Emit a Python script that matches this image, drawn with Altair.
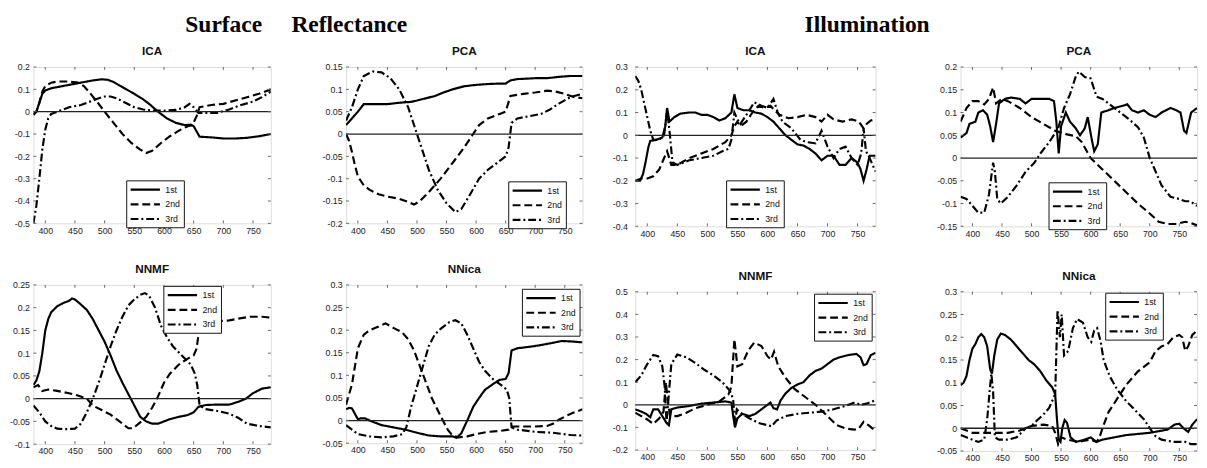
import altair as alt
import pandas as pd

COMPONENTS = ["1st", "2nd", "3rd"]
X_TICKS = [400, 450, 500, 550, 600, 650, 700, 750]

# ---------------- Surface reflectance : ICA ----------------
SR_ICA_1 = [(380,-0.01),(385,0.0),(390,0.04),(395,0.08),(400,0.095),(410,0.105),(420,0.11),(440,0.12),(460,0.13),(480,0.14),(495,0.145),(505,0.143),(515,0.133),(530,0.11),(550,0.08),(565,0.055),(575,0.035),(590,0.0),(605,-0.03),(620,-0.05),(635,-0.06),(645,-0.058),(650,-0.065),(660,-0.112),(680,-0.115),(700,-0.12),(720,-0.12),(740,-0.117),(760,-0.11),(780,-0.1)]
SR_ICA_2 = [(380,-0.015),(385,0.0),(390,0.04),(395,0.09),(400,0.115),(410,0.13),(420,0.135),(440,0.135),(455,0.13),(465,0.115),(475,0.085),(490,0.035),(500,0.0),(515,-0.05),(530,-0.1),(545,-0.14),(560,-0.17),(570,-0.185),(580,-0.175),(595,-0.14),(610,-0.11),(625,-0.085),(640,-0.065),(648,-0.06),(655,-0.02),(660,0.02),(680,0.03),(700,0.035),(720,0.05),(740,0.065),(760,0.08),(780,0.1)]
SR_ICA_3 = [(380,-0.5),(385,-0.42),(390,-0.3),(395,-0.17),(400,-0.08),(405,-0.03),(410,-0.01),(420,0.0),(440,0.02),(460,0.03),(480,0.05),(490,0.06),(500,0.068),(510,0.068),(520,0.06),(535,0.04),(550,0.02),(565,0.01),(580,0.005),(600,0.005),(620,0.008),(635,0.02),(643,0.035),(650,0.02),(658,-0.005),(670,-0.005),(690,-0.005),(710,0.01),(730,0.03),(750,0.045),(765,0.065),(780,0.09)]
SR_ICA_YTICKS = [-0.5, -0.4, -0.3, -0.2, -0.1, 0, 0.1, 0.2]

# ---------------- Surface reflectance : PCA ----------------
SR_PCA_1 = [(380,0.02),(390,0.035),(400,0.05),(410,0.067),(430,0.067),(450,0.067),(470,0.07),(490,0.072),(500,0.075),(515,0.08),(530,0.085),(545,0.093),(560,0.1),(580,0.107),(600,0.11),(620,0.112),(640,0.113),(650,0.113),(658,0.12),(670,0.123),(700,0.125),(720,0.125),(740,0.128),(760,0.13),(780,0.13)]
SR_PCA_2 = [(380,0.0),(385,-0.015),(390,-0.04),(395,-0.07),(400,-0.095),(410,-0.115),(420,-0.125),(435,-0.135),(450,-0.14),(470,-0.145),(485,-0.152),(495,-0.158),(505,-0.15),(520,-0.13),(540,-0.1),(560,-0.065),(580,-0.03),(595,0.0),(605,0.02),(620,0.035),(640,0.045),(650,0.05),(658,0.085),(680,0.09),(700,0.093),(720,0.097),(735,0.095),(750,0.09),(765,0.083),(780,0.08)]
SR_PCA_3 = [(380,0.03),(390,0.06),(400,0.1),(410,0.13),(425,0.14),(440,0.138),(455,0.125),(470,0.1),(485,0.06),(500,0.0),(510,-0.04),(520,-0.08),(535,-0.125),(550,-0.155),(565,-0.175),(575,-0.168),(590,-0.135),(605,-0.1),(620,-0.08),(640,-0.06),(650,-0.05),(655,-0.03),(660,0.025),(670,0.035),(690,0.04),(710,0.045),(725,0.055),(740,0.068),(760,0.083),(780,0.09)]
SR_PCA_YTICKS = [-0.2, -0.15, -0.1, -0.05, 0, 0.05, 0.1, 0.15]

# ---------------- Illumination : ICA ----------------
IL_ICA_1 = [(380,-0.2),(388,-0.2),(393,-0.17),(397,-0.12),(402,-0.05),(405,-0.025),(415,-0.02),(425,-0.01),(430,0.04),(433,0.12),(437,0.06),(445,0.08),(455,0.095),(470,0.1),(480,0.1),(490,0.09),(500,0.09),(510,0.08),(520,0.065),(530,0.075),(540,0.1),(545,0.18),(550,0.12),(560,0.11),(570,0.11),(580,0.1),(590,0.095),(600,0.08),(610,0.06),(620,0.03),(630,0.0),(640,-0.02),(650,-0.04),(660,-0.045),(670,-0.06),(680,-0.08),(690,-0.11),(700,-0.09),(710,-0.09),(720,-0.13),(730,-0.13),(740,-0.1),(750,-0.12),(755,-0.15),(760,-0.2),(765,-0.15),(770,-0.09),(780,-0.09)]
IL_ICA_2 = [(380,-0.2),(390,-0.19),(400,-0.19),(410,-0.18),(420,-0.15),(428,-0.1),(433,-0.07),(440,-0.13),(450,-0.13),(470,-0.1),(490,-0.08),(510,-0.06),(530,-0.03),(540,0.0),(545,0.04),(550,0.06),(555,0.04),(565,0.06),(575,0.1),(585,0.13),(595,0.12),(605,0.13),(612,0.11),(620,0.09),(635,0.075),(650,0.08),(665,0.09),(680,0.08),(690,0.06),(700,0.09),(710,0.07),(725,0.06),(740,0.07),(752,0.06),(760,0.03),(765,0.05),(772,0.065),(780,0.07)]
IL_ICA_3 = [(380,0.26),(385,0.24),(390,0.2),(395,0.14),(400,0.08),(405,0.02),(410,-0.02),(420,-0.02),(428,0.0),(433,0.11),(437,0.02),(442,-0.12),(450,-0.13),(470,-0.11),(490,-0.1),(510,-0.09),(525,-0.07),(535,-0.06),(540,-0.02),(545,0.1),(550,0.07),(555,0.05),(565,0.09),(578,0.145),(590,0.13),(600,0.12),(610,0.16),(617,0.1),(625,0.06),(640,0.03),(655,-0.02),(665,-0.03),(680,-0.035),(690,0.02),(700,-0.05),(710,-0.1),(720,-0.06),(730,-0.05),(740,-0.1),(750,-0.13),(756,-0.08),(760,0.03),(764,-0.07),(770,-0.1),(780,-0.16)]
IL_ICA_YTICKS = [-0.4, -0.3, -0.2, -0.1, 0, 0.1, 0.2, 0.3]

# ---------------- Illumination : PCA ----------------
IL_PCA_1 = [(380,0.045),(385,0.05),(390,0.055),(395,0.075),(405,0.08),(410,0.1),(418,0.105),(425,0.095),(430,0.07),(435,0.035),(440,0.075),(445,0.12),(455,0.13),(465,0.133),(480,0.13),(490,0.12),(500,0.13),(515,0.13),(530,0.13),(538,0.125),(542,0.08),(546,0.01),(550,0.07),(558,0.1),(565,0.08),(575,0.065),(582,0.05),(590,0.065),(595,0.09),(602,0.04),(606,0.015),(612,0.03),(618,0.1),(630,0.105),(640,0.11),(655,0.115),(662,0.118),(670,0.105),(680,0.1),(690,0.105),(700,0.095),(710,0.09),(720,0.1),(735,0.11),(745,0.105),(752,0.1),(758,0.06),(762,0.055),(770,0.1),(780,0.11)]
IL_PCA_2 = [(380,0.08),(390,0.11),(400,0.125),(410,0.125),(420,0.118),(428,0.13),(435,0.155),(440,0.12),(450,0.13),(460,0.125),(480,0.11),(500,0.09),(520,0.075),(540,0.06),(560,0.052),(575,0.048),(585,0.035),(600,0.0),(620,-0.025),(640,-0.05),(660,-0.075),(680,-0.1),(700,-0.122),(715,-0.14),(730,-0.145),(745,-0.145),(760,-0.14),(770,-0.143),(780,-0.148)]
IL_PCA_3 = [(380,-0.085),(390,-0.09),(400,-0.105),(410,-0.12),(420,-0.12),(428,-0.08),(432,-0.04),(435,-0.01),(438,-0.03),(442,-0.09),(448,-0.1),(460,-0.085),(475,-0.06),(490,-0.03),(505,-0.01),(515,0.01),(530,0.035),(545,0.065),(555,0.11),(565,0.14),(575,0.18),(580,0.19),(590,0.178),(600,0.175),(610,0.135),(620,0.13),(635,0.115),(650,0.1),(665,0.085),(680,0.068),(690,0.045),(700,0.0),(710,-0.03),(720,-0.06),(735,-0.085),(750,-0.09),(760,-0.095),(768,-0.095),(780,-0.105)]
IL_PCA_YTICKS = [-0.15, -0.1, -0.05, 0, 0.05, 0.1, 0.15, 0.2]

# ---------------- Surface reflectance : NNMF ----------------
SR_NNMF_1 = [(380,0.03),(385,0.04),(390,0.06),(395,0.1),(400,0.15),(405,0.175),(410,0.19),(420,0.203),(430,0.21),(440,0.215),(445,0.22),(450,0.218),(460,0.207),(470,0.195),(480,0.175),(490,0.15),(500,0.125),(510,0.095),(520,0.062),(530,0.035),(540,0.01),(550,-0.015),(560,-0.04),(570,-0.05),(580,-0.055),(590,-0.055),(600,-0.05),(610,-0.045),(625,-0.04),(640,-0.036),(650,-0.03),(658,-0.018),(670,-0.014),(690,-0.013),(710,-0.013),(725,-0.007),(738,0.0),(750,0.012),(765,0.022),(780,0.025)]
SR_NNMF_2 = [(380,0.025),(388,0.03),(395,0.017),(405,0.02),(420,0.017),(440,0.012),(455,0.007),(470,0.0),(480,-0.015),(495,-0.025),(510,-0.035),(525,-0.05),(540,-0.065),(548,-0.065),(560,-0.052),(570,-0.04),(580,-0.02),(590,0.005),(600,0.035),(610,0.055),(625,0.075),(640,0.088),(650,0.095),(655,0.11),(660,0.16),(670,0.165),(690,0.17),(710,0.172),(725,0.176),(745,0.18),(765,0.18),(780,0.178)]
SR_NNMF_3 = [(380,-0.015),(390,-0.03),(400,-0.05),(410,-0.06),(420,-0.066),(435,-0.067),(450,-0.066),(460,-0.055),(470,-0.03),(480,0.0),(490,0.035),(500,0.075),(510,0.115),(520,0.15),(530,0.18),(540,0.205),(550,0.218),(560,0.228),(568,0.232),(575,0.226),(585,0.2),(595,0.16),(605,0.135),(615,0.115),(630,0.095),(645,0.075),(652,0.055),(656,0.03),(660,-0.015),(670,-0.023),(690,-0.027),(710,-0.033),(725,-0.042),(740,-0.055),(760,-0.06),(780,-0.063)]
SR_NNMF_YTICKS = [-0.1, -0.05, 0, 0.05, 0.1, 0.15, 0.2, 0.25]

# ---------------- Surface reflectance : NNica ----------------
SR_NNICA_1 = [(380,0.025),(385,0.028),(390,0.027),(395,0.015),(400,0.003),(405,0.005),(412,0.005),(420,0.0),(440,-0.01),(460,-0.015),(480,-0.02),(500,-0.027),(520,-0.033),(540,-0.035),(560,-0.035),(567,-0.038),(575,-0.028),(585,0.0),(595,0.03),(605,0.05),(615,0.068),(630,0.082),(640,0.09),(650,0.092),(655,0.105),(660,0.155),(670,0.16),(690,0.163),(710,0.167),(730,0.172),(745,0.176),(760,0.175),(780,0.173)]
SR_NNICA_2 = [(380,0.035),(390,0.08),(400,0.16),(410,0.19),(420,0.2),(435,0.208),(447,0.215),(460,0.205),(475,0.195),(485,0.18),(495,0.155),(505,0.12),(515,0.085),(525,0.05),(540,0.01),(552,-0.02),(560,-0.033),(570,-0.037),(585,-0.035),(600,-0.03),(620,-0.025),(640,-0.023),(655,-0.02),(660,-0.013),(680,-0.013),(700,-0.013),(720,-0.012),(730,-0.007),(740,0.002),(760,0.015),(780,0.025)]
SR_NNICA_3 = [(380,-0.01),(390,-0.02),(400,-0.03),(420,-0.035),(440,-0.037),(460,-0.035),(475,-0.03),(482,-0.015),(490,0.03),(500,0.075),(510,0.12),(520,0.165),(530,0.19),(540,0.203),(555,0.218),(565,0.222),(575,0.215),(585,0.19),(595,0.16),(605,0.13),(615,0.11),(630,0.09),(645,0.076),(652,0.068),(656,0.05),(660,-0.015),(670,-0.02),(700,-0.025),(730,-0.027),(760,-0.032),(780,-0.033)]
SR_NNICA_YTICKS = [-0.05, 0, 0.05, 0.1, 0.15, 0.2, 0.25, 0.3]

# ---------------- Illumination : NNMF ----------------
IL_NNMF_1 = [(380,-0.02),(390,-0.03),(398,-0.04),(405,-0.055),(410,-0.02),(418,-0.02),(425,-0.05),(432,-0.08),(436,-0.09),(440,-0.02),(450,-0.012),(470,-0.005),(490,0.005),(510,0.01),(530,0.015),(540,0.01),(543,-0.05),(546,-0.1),(550,-0.06),(558,-0.04),(570,-0.05),(580,-0.04),(590,-0.02),(600,0.0),(605,0.01),(610,-0.015),(616,-0.02),(622,0.02),(630,0.05),(640,0.075),(650,0.09),(660,0.1),(670,0.13),(680,0.15),(690,0.16),(700,0.18),(710,0.2),(720,0.21),(735,0.22),(748,0.225),(755,0.21),(760,0.175),(765,0.18),(772,0.22),(780,0.23)]
IL_NNMF_2 = [(380,-0.035),(390,-0.05),(400,-0.065),(410,-0.085),(420,-0.06),(427,-0.03),(431,0.1),(434,0.02),(438,-0.05),(450,-0.05),(465,-0.035),(480,-0.015),(500,0.0),(520,0.015),(535,0.045),(540,0.08),(545,0.29),(550,0.17),(558,0.18),(568,0.24),(578,0.275),(590,0.26),(600,0.215),(606,0.2),(611,0.235),(618,0.17),(630,0.12),(645,0.07),(660,0.04),(680,0.0),(700,-0.05),(715,-0.09),(730,-0.105),(745,-0.11),(752,-0.105),(760,-0.075),(768,-0.09),(780,-0.115)]
IL_NNMF_3 = [(380,0.1),(390,0.13),(400,0.18),(410,0.22),(418,0.215),(425,0.17),(429,0.08),(432,-0.08),(436,0.05),(440,0.18),(450,0.222),(465,0.21),(480,0.185),(495,0.155),(510,0.13),(525,0.1),(535,0.07),(540,0.05),(543,0.02),(546,-0.08),(549,-0.02),(555,-0.035),(570,-0.06),(585,-0.08),(600,-0.09),(607,-0.095),(615,-0.07),(630,-0.05),(650,-0.04),(670,-0.035),(690,-0.03),(710,-0.02),(730,-0.005),(745,0.01),(755,0.0),(765,0.005),(780,0.02)]
IL_NNMF_YTICKS = [-0.2, -0.1, 0, 0.1, 0.2, 0.3, 0.4, 0.5]

# ---------------- Illumination : NNica ----------------
IL_NNICA_1 = [(380,0.095),(385,0.1),(390,0.115),(395,0.15),(400,0.175),(405,0.185),(410,0.2),(415,0.207),(420,0.2),(425,0.18),(430,0.13),(433,0.12),(437,0.16),(442,0.195),(448,0.208),(455,0.205),(465,0.195),(475,0.18),(485,0.165),(495,0.15),(505,0.14),(515,0.125),(525,0.105),(535,0.09),(540,0.075),(543,0.02),(546,-0.025),(549,-0.03),(552,0.0),(556,0.018),(560,0.012),(566,-0.02),(575,-0.03),(590,-0.025),(600,-0.02),(610,-0.03),(620,-0.025),(640,-0.02),(660,-0.015),(700,-0.01),(730,-0.003),(742,0.008),(750,0.01),(757,0.0),(765,-0.008),(772,0.008),(780,0.02)]
IL_NNICA_2 = [(380,0.0),(390,-0.005),(400,-0.01),(420,-0.01),(440,-0.01),(460,-0.01),(480,-0.005),(500,0.005),(520,0.008),(535,0.005),(540,-0.01),(545,-0.035),(550,-0.02),(560,-0.025),(580,-0.03),(600,-0.025),(610,-0.03),(615,-0.02),(620,0.0),(630,0.035),(640,0.055),(650,0.075),(660,0.095),(670,0.11),(680,0.125),(690,0.135),(700,0.145),(710,0.17),(720,0.18),(730,0.185),(740,0.2),(750,0.205),(755,0.2),(760,0.17),(765,0.18),(772,0.205),(780,0.215)]
IL_NNICA_3 = [(380,-0.015),(390,-0.02),(400,-0.025),(410,-0.03),(420,-0.025),(425,0.02),(429,0.08),(432,0.12),(435,0.08),(438,-0.02),(445,-0.025),(460,-0.025),(475,-0.02),(490,0.0),(500,0.005),(510,0.018),(520,0.03),(530,0.045),(540,0.075),(544,0.26),(548,0.2),(551,0.25),(555,0.16),(562,0.17),(570,0.22),(577,0.24),(587,0.232),(595,0.2),(601,0.19),(606,0.215),(611,0.22),(617,0.19),(622,0.15),(632,0.115),(645,0.085),(660,0.06),(675,0.04),(690,0.02),(700,0.0),(710,-0.018),(720,-0.025),(740,-0.03),(760,-0.03),(770,-0.035),(780,-0.035)]
IL_NNICA_YTICKS = [-0.05, 0, 0.05, 0.1, 0.15, 0.2, 0.25, 0.3]

MINUS = "\u2212"
LABEL_EXPR = "replace(format(datum.value, '~g'), '" + MINUS + "', '-')"
DASHES = [[1, 0], [8, 4], [8, 3, 2, 3]]
LEGEND_LINE = "M-3,0H3"


def make_panel(title, series, ydom, yticks, w, h, ext, ypad, lx, ly):
    rows = []
    for name, pts in zip(COMPONENTS, series):
        for wl, v in pts:
            rows.append({"wl": wl, "v": v, "comp": name})
    df = pd.DataFrame(rows)
    xs = alt.Scale(domain=[380, 780], nice=False, zero=False)
    ys = alt.Scale(domain=ydom, nice=False, zero=False)
    axis_common = dict(domain=False, ticks=False, grid=False, labelFontSize=9,
                       labelFont="Liberation Sans", labelColor="#222",
                       labelExpr=LABEL_EXPR, labelOverlap=False,
                       labelFlush=False)
    x_axis = alt.Axis(values=X_TICKS, labelPadding=3, **axis_common)
    y_axis = alt.Axis(values=yticks, labelPadding=ypad, minExtent=ext,
                      maxExtent=ext, **axis_common)

    def X(f):
        return alt.X(f, scale=xs, title=None, axis=x_axis)

    def Y(f):
        return alt.Y(f, scale=ys, title=None, axis=y_axis)

    lines = alt.Chart(df).mark_line(strokeWidth=2.2, color="black", clip=True).encode(
        x=X("wl:Q"),
        y=Y("v:Q"),
        strokeDash=alt.StrokeDash(
            "comp:N",
            scale=alt.Scale(domain=COMPONENTS, range=DASHES),
            legend=alt.Legend(orient="none", legendX=lx, legendY=ly, title=None,
                              symbolType=LEGEND_LINE, symbolSize=100,
                              symbolOffset=10,
                              symbolStrokeWidth=2.2, symbolStrokeColor="black",
                              symbolFillColor="transparent",
                              labelFontSize=9, labelFont="Liberation Sans",
                              labelColor="#111", labelOffset=14,
                              strokeColor="#111", fillColor="white",
                              padding=3, rowPadding=3),
        ),
    )
    zero = alt.Chart(pd.DataFrame({"v": [0]})).mark_rule(
        color="#222", strokeWidth=1.3).encode(y=Y("v:Q"))
    xt = alt.Chart(pd.DataFrame({"wl": X_TICKS}))
    yt = alt.Chart(pd.DataFrame({"v": yticks}))
    tick_style = dict(color="#666", strokeWidth=1)
    t_bottom = xt.mark_rule(**tick_style).encode(
        x=X("wl:Q"), y=alt.value(h), y2=alt.value(h - 3))
    t_top = xt.mark_rule(**tick_style).encode(
        x=X("wl:Q"), y=alt.value(0), y2=alt.value(3))
    t_left = yt.mark_rule(**tick_style).encode(
        y=Y("v:Q"), x=alt.value(0), x2=alt.value(3))
    t_right = yt.mark_rule(**tick_style).encode(
        y=Y("v:Q"), x=alt.value(w), x2=alt.value(w - 3))
    return alt.layer(lines, zero, t_bottom, t_top, t_left, t_right).properties(
        width=w, height=h,
        title=alt.TitleParams(title, font="Liberation Sans", fontSize=12,
                              fontWeight="bold", color="#111", offset=5,
                              anchor="middle"),
    )


p1 = make_panel("ICA", [SR_ICA_1, SR_ICA_2, SR_ICA_3], [-0.5, 0.2], SR_ICA_YTICKS, 243, 160, 21, 4, 95, 116)
p2 = make_panel("PCA", [SR_PCA_1, SR_PCA_2, SR_PCA_3], [-0.2, 0.15], SR_PCA_YTICKS, 242, 160, 25, 4, 166, 117)
p3 = make_panel("ICA", [IL_ICA_1, IL_ICA_2, IL_ICA_3], [-0.4, 0.3], IL_ICA_YTICKS, 246, 163, 25, 8, 93, 116)
p4 = make_panel("PCA", [IL_PCA_1, IL_PCA_2, IL_PCA_3], [-0.15, 0.2], IL_PCA_YTICKS, 242, 163, 25, 4, 90, 118)
p5 = make_panel("NNMF", [SR_NNMF_1, SR_NNMF_2, SR_NNMF_3], [-0.1, 0.25], SR_NNMF_YTICKS, 243, 163, 21, 4, 133, 1)
p6 = make_panel("NNica", [SR_NNICA_1, SR_NNICA_2, SR_NNICA_3], [-0.05, 0.3], SR_NNICA_YTICKS, 242, 162, 25, 4, 180, 4)
p7 = make_panel("NNMF", [IL_NNMF_1, IL_NNMF_2, IL_NNMF_3], [-0.2, 0.5], IL_NNMF_YTICKS, 246, 162, 25, 8, 183, 2)
p8 = make_panel("NNica", [IL_NNICA_1, IL_NNICA_2, IL_NNICA_3], [-0.05, 0.3], IL_NNICA_YTICKS, 242, 163, 25, 4, 148, 1)


def indep(c):
    return c.resolve_scale(strokeDash="independent").resolve_legend(strokeDash="independent")


col1 = indep(alt.vconcat(p1, p5, spacing=27))
col2 = indep(alt.vconcat(p2, p6, spacing=27))
col3 = indep(alt.vconcat(p3, p7, spacing=31))
col4 = indep(alt.vconcat(p4, p8, spacing=31))

big_title = dict(font="Liberation Serif", fontSize=24, fontWeight="bold",
                 color="black", anchor="middle", offset=8)
half1 = indep(alt.hconcat(col1, col2, spacing=49).properties(
    title=alt.TitleParams("Surface\u00a0\u00a0\u00a0\u00a0\u00a0Reflectance", **big_title)))
half2 = indep(alt.hconcat(col3, col4, spacing=59).properties(
    title=alt.TitleParams("Illumination", dx=-38, **big_title)))

chart = indep(alt.hconcat(half1, half2, spacing=26)).properties(
    padding={"left": 0, "top": 0, "right": 0, "bottom": 0}
).configure_view(stroke="#777", strokeWidth=1).configure(background="white")

chart.save("out.html", embed_options={"renderer": "svg", "actions": False})
